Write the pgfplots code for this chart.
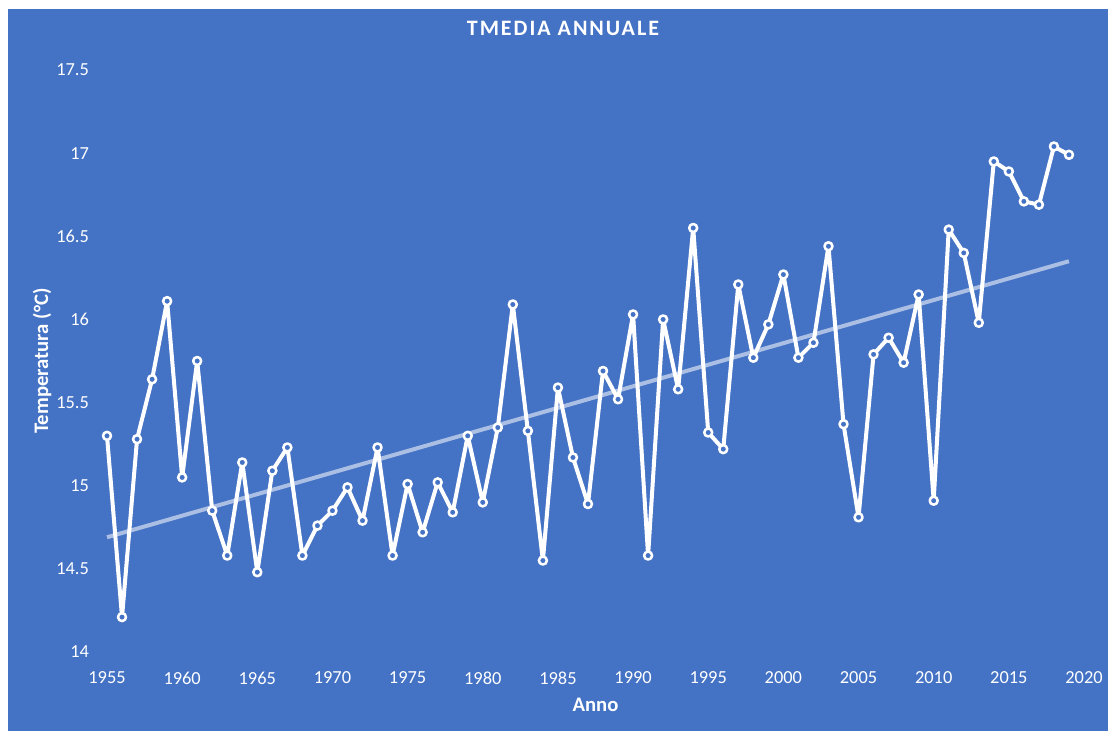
\documentclass[border=0pt]{standalone}
\usepackage{fontspec}
\setmainfont{Carlito}
\newfontfamily\titlefont[LetterSpace=9]{Carlito}
\usepackage{pgfplots}
\pgfplotsset{compat=1.18}
\definecolor{bg}{HTML}{4472C4}
\definecolor{trend}{HTML}{ABBFE4}
\begin{document}
\begin{tikzpicture}
\useasboundingbox (0pt,0pt) rectangle (831pt,-548.25pt);
\fill[white] (0pt,0pt) rectangle (831pt,-548.25pt);
\fill[bg] (6pt,-6.75pt) rectangle (831pt,-548.25pt);
\begin{axis}[
  at={(80.25pt,-489pt)}, anchor=south west,
  width=732.75pt, height=436.5pt, scale only axis,
  xmin=1955, xmax=2020, ymin=14, ymax=17.5,
  xtick={1955,1960,1965,1970,1975,1980,1985,1990,1995,2000,2005,2010,2015,2020},
  ytick={14,14.5,15,15.5,16,16.5,17,17.5},
  axis line style={draw=none}, major tick length=0pt,
  tick label style={font=\fontsize{13.8}{16}\selectfont, text=white},
  /pgf/number format/1000 sep={}, /pgf/number format/assume math mode=true,
  yticklabel style={xshift=-10pt},
  xticklabel style={yshift=-11.5pt},
  title={\titlefont\bfseries TMEDIA ANNUALE},
  title style={at={(axis description cs:0.4667,1.0584)}, anchor=center, font=\fontsize{16.5}{19}\selectfont, text=white},
  xlabel={Anno},
  xlabel style={at={(axis description cs:0.5,-0.0911)}, anchor=center, font=\fontsize{15.5}{18}\selectfont\bfseries, text=white},
  ylabel={Temperatura (°C)},
  ylabel style={at={(axis description cs:-0.0665,0.5)}, anchor=center, font=\fontsize{15.5}{18}\selectfont\bfseries, text=white},
  clip=false,
]
\addplot[trend, line width=3pt] coordinates {(1955,14.69) (2019,16.35)};
\addplot[white, line width=3pt, line join=round, mark=*, mark size=3pt, mark options={fill=bg, draw=white, line width=1.9pt}] coordinates {
(1955,15.30) (1956,14.21) (1957,15.28) (1958,15.64) (1959,16.11) (1960,15.05)
(1961,15.75) (1962,14.85) (1963,14.58) (1964,15.14) (1965,14.48) (1966,15.09)
(1967,15.23) (1968,14.58) (1969,14.76) (1970,14.85) (1971,14.99) (1972,14.79)
(1973,15.23) (1974,14.58) (1975,15.01) (1976,14.72) (1977,15.02) (1978,14.84)
(1979,15.30) (1980,14.90) (1981,15.35) (1982,16.09) (1983,15.33) (1984,14.55)
(1985,15.59) (1986,15.17) (1987,14.89) (1988,15.69) (1989,15.52) (1990,16.03)
(1991,14.58) (1992,16.00) (1993,15.58) (1994,16.55) (1995,15.32) (1996,15.22)
(1997,16.21) (1998,15.77) (1999,15.97) (2000,16.27) (2001,15.77) (2002,15.86)
(2003,16.44) (2004,15.37) (2005,14.81) (2006,15.79) (2007,15.89) (2008,15.74)
(2009,16.15) (2010,14.91) (2011,16.54) (2012,16.40) (2013,15.98) (2014,16.95)
(2015,16.89) (2016,16.71) (2017,16.69) (2018,17.04) (2019,16.99)
};
\end{axis}
\end{tikzpicture}
\end{document}
